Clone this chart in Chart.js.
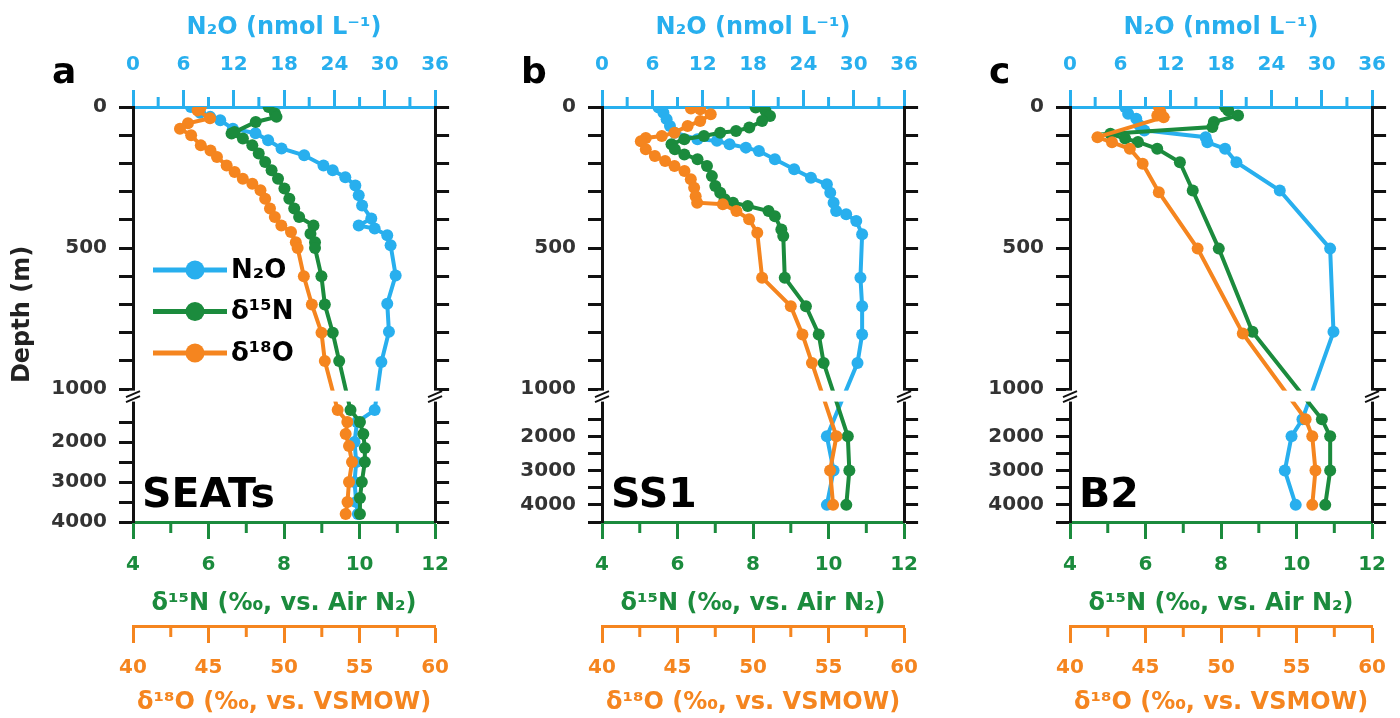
<!DOCTYPE html>
<html>
<head>
<meta charset="utf-8">
<script src="https://cdn.jsdelivr.net/npm/chart.js@4.4.0/dist/chart.umd.min.js"></script>
<style>
  body { margin: 0; background: #fff; width: 1400px; height: 718px; overflow: hidden; position: relative; }
  canvas { position: absolute; top: 0; }
</style>
</head>
<body>
<canvas id="chartA" width="463" height="718" style="left:0px"></canvas>
<canvas id="chartB" width="463" height="718" style="left:469px"></canvas>
<canvas id="chartC" width="463" height="718" style="left:937px"></canvas>
<script>
let blue = "#28AFEE";
let green = "#1B8B3D";
let orange = "#F5851F";

// tick labels
let n2oTicks = [0, 6, 12, 18, 24, 30, 36];
let d15Ticks = [4, 6, 8, 10, 12];
let d18Ticks = [40, 45, 50, 55, 60];
let depthLabels = [0, 500, 1000, 2000, 3000, 4000];

// SEATs
let seatsN2oDepth = [0, 20, 35, 47, 77, 93, 118, 147, 171, 207, 224, 249, 278, 313, 349, 395, 420, 431, 455, 490, 597, 697, 797, 904, 1200, 1500, 2000, 2500, 3000, 3500, 3800];
let seatsN2o = [6.9, 8.0, 9.2, 10.4, 11.9, 14.6, 16.1, 17.7, 20.4, 22.7, 23.8, 25.3, 26.5, 26.9, 27.3, 28.4, 26.9, 28.8, 30.3, 30.7, 31.3, 30.3, 30.5, 29.6, 28.8, 26.7, 26.4, 26.6, 26.4, 26.6, 26.8];
let seats15Depth = [0, 23, 35, 53, 89, 94, 112, 136, 165, 195, 224, 254, 289, 325, 360, 390, 420, 449, 479, 500, 600, 700, 800, 900, 1200, 1500, 1800, 2150, 2500, 3000, 3400, 3800];
let seats15N = [7.59, 7.76, 7.8, 7.25, 6.69, 6.61, 6.91, 7.16, 7.33, 7.5, 7.67, 7.84, 8.01, 8.14, 8.27, 8.4, 8.78, 8.7, 8.82, 8.82, 8.99, 9.08, 9.29, 9.46, 9.76, 10.01, 10.1, 10.14, 10.14, 10.06, 10.01, 10.01];
let seats18Depth = [0, 12, 40, 58, 77, 100, 136, 154, 177, 207, 230, 254, 272, 295, 325, 360, 390, 420, 443, 479, 500, 600, 700, 800, 900, 1200, 1500, 1800, 2100, 2500, 3000, 3500, 3800];
let seats18O = [44.49, 44.28, 45.1, 43.64, 43.11, 43.85, 44.49, 45.13, 45.56, 46.2, 46.73, 47.27, 47.9, 48.44, 48.75, 49.07, 49.39, 49.82, 50.46, 50.78, 50.9, 51.31, 51.84, 52.48, 52.7, 53.55, 54.19, 54.08, 54.3, 54.5, 54.3, 54.2, 54.08];

// SS1
let ss1N2oDepth = [2, 20, 43, 67, 91, 114, 120, 132, 144, 156, 185, 221, 251, 274, 304, 339, 369, 380, 404, 451, 605, 706, 806, 907, 2000, 3000, 4000];
let ss1N2o = [6.74, 7.32, 7.7, 8.1, 8.67, 11.37, 13.7, 15.2, 17.15, 18.7, 20.6, 22.9, 24.9, 26.8, 27.2, 27.6, 27.9, 29.1, 30.3, 31.0, 30.8, 31.0, 31.0, 30.45, 26.8, 27.6, 26.8];
let ss115Depth = [2, 14, 32, 50, 73, 85, 91, 103, 114, 132, 150, 168, 185, 209, 245, 280, 304, 327, 339, 351, 369, 387, 434, 457, 605, 706, 806, 907, 2000, 3000, 4000];
let ss115N = [8.07, 8.33, 8.45, 8.24, 7.9, 7.55, 7.13, 6.7, 6.18, 5.84, 5.93, 6.18, 6.53, 6.78, 6.91, 7.0, 7.13, 7.25, 7.47, 7.86, 8.41, 8.58, 8.75, 8.8, 8.84, 9.4, 9.74, 9.87, 10.51, 10.55, 10.47];
let ss118Depth = [5, 8, 26, 50, 67, 91, 103, 110, 121, 150, 174, 191, 209, 227, 256, 286, 316, 339, 345, 369, 398, 446, 605, 706, 806, 907, 2000, 3000, 4000];
let ss118O = [45.89, 46.5, 47.2, 46.5, 45.67, 44.8, 43.96, 42.9, 42.57, 42.9, 43.5, 44.18, 44.8, 45.46, 45.88, 46.1, 46.2, 46.3, 48.0, 48.9, 49.74, 50.28, 50.6, 52.5, 53.27, 53.9, 55.52, 55.1, 55.3];

// B2
let b2N2oDepth = [0, 24, 42, 65, 83, 107, 125, 148, 196, 296, 502, 797, 1500, 2000, 3000, 4000];
let b2N2o = [6.55, 6.93, 7.9, 8.28, 8.86, 16.17, 16.37, 18.48, 19.83, 25.0, 31.0, 31.4, 27.7, 26.4, 25.6, 26.9];
let b215Depth = [0, 12, 30, 53, 71, 95, 112, 124, 148, 196, 296, 502, 797, 1500, 2000, 3000, 4000];
let b215N = [8.11, 8.19, 8.45, 7.81, 7.77, 5.07, 5.46, 5.8, 6.31, 6.91, 7.25, 7.94, 8.83, 10.67, 10.89, 10.89, 10.76];
let b218Depth = [0, 18, 30, 36, 107, 125, 148, 201, 302, 502, 803, 1500, 2000, 3000, 4000];
let b218O = [45.88, 45.99, 45.78, 46.2, 41.82, 42.78, 43.96, 44.81, 45.88, 48.45, 51.44, 55.6, 56.04, 56.25, 56.04];

// broken depth axis: 0-1000 m linear, blank band, then the deep part squeezed
const GAP = 46;
const LOWER = 425;
function depthMap(dmax) {
    return (d) => (d <= 1000 ? d : 1000 + GAP + ((d - 1000) * LOWER) / (dmax - 1000));
}
function depthTicks(dmax, ty) {
    let t = [];
    for (let d = 0; d <= 1000; d += 100) t.push({ value: ty(d), depth: d });
    for (let d = 1500; d <= dmax; d += 500) t.push({ value: ty(d), depth: d });
    return t;
}

Chart.defaults.font.family = "'DejaVu Sans', sans-serif";
Chart.defaults.font.weight = "bold";
let tickFont = { size: 20, weight: "bold" };

function line(ctx, x1, y1, x2, y2) {
    ctx.beginPath();
    ctx.moveTo(x1, y1);
    ctx.lineTo(x2, y2);
    ctx.stroke();
}

let minorTicks = {
    id: "minorTicks",
    afterDraw(chart) {
        let ctx = chart.ctx;
        [["x", 3, blue, -10], ["x15", 1, green, 11], ["x18", 2.5, orange, 11]].forEach(([id, step, col, len]) => {
            let s = chart.scales[id];
            let y0 = len < 0 ? s.bottom : s.top;
            ctx.save();
            ctx.strokeStyle = col;
            ctx.lineWidth = 3;
            for (let v = s.min + step; v < s.max; v += 2 * step) {
                let x = s.getPixelForValue(v);
                line(ctx, x, y0, x, y0 + len);
            }
            ctx.restore();
        });
    },
};

let depthBreak = {
    id: "depthBreak",
    afterDatasetsDraw(chart) {
        let ctx = chart.ctx;
        let a = chart.chartArea;
        let y1 = chart.scales.y.getPixelForValue(1000) + 1.5;
        let y2 = chart.scales.y.getPixelForValue(1000 + GAP) - 0.5;
        ctx.save();
        ctx.fillStyle = "#fff";
        ctx.fillRect(a.left - 4, y1, a.right - a.left + 8, y2 - y1);
        ctx.strokeStyle = "#111";
        ctx.lineWidth = 2;
        let yc = (y1 + y2) / 2;
        [a.left, a.right].forEach((x) => {
            line(ctx, x - 7, yc + 1, x + 7, yc - 5);
            line(ctx, x - 7, yc + 6, x + 7, yc);
        });
        ctx.restore();
    },
};

let decor = {
    id: "decor",
    afterDraw(chart, args, opts) {
        let ctx = chart.ctx;
        let a = chart.chartArea;
        ctx.save();
        ctx.fillStyle = "#000";
        ctx.textBaseline = "alphabetic";
        ctx.font = "bold 36px 'DejaVu Sans'";
        ctx.fillText(opts.letter, a.left - 81, 83);
        ctx.font = "bold 41px 'DejaVu Sans'";
        ctx.fillText(opts.station, a.left + 9, 507);
        if (opts.legend) {
            let items = [["N₂O", blue], ["δ¹⁵N", green], ["δ¹⁸O", orange]];
            items.forEach(([txt, col], i) => {
                let y = a.top + 163 + i * 41.5;
                ctx.strokeStyle = col;
                ctx.fillStyle = col;
                ctx.lineWidth = 5;
                line(ctx, a.left + 20, y, a.left + 94, y);
                ctx.beginPath();
                ctx.arc(a.left + 62, y, 9.5, 0, Math.PI * 2);
                ctx.fill();
                ctx.fillStyle = "#000";
                ctx.font = "bold 26px 'DejaVu Sans'";
                ctx.textBaseline = "middle";
                ctx.fillText(txt, a.left + 98, y + 1);
            });
        }
        ctx.restore();
    },
};

function series(label, depth, vals, ty, color, axis) {
    return {
        label: label,
        data: depth.map((d, i) => ({ x: vals[i], y: ty(d) })),
        xAxisID: axis,
        yAxisID: "y",
        showLine: true,
        borderColor: color,
        backgroundColor: color,
        pointBackgroundColor: color,
        pointBorderWidth: 0,
        pointRadius: 6,
        borderWidth: 4,
        tension: 0,
    };
}

function xAxis(pos, min, max, ticks, color, title, height, labelPad, titlePad, weight) {
    return {
        type: "linear",
        position: pos,
        min: min,
        max: max,
        weight: weight,
        afterBuildTicks: (s) => {
            s.ticks = ticks.map((v) => ({ value: v }));
        },
        ticks: { color: color, font: tickFont, padding: labelPad, autoSkip: false, maxRotation: 0 },
        grid: { drawOnChartArea: false, tickLength: 17, tickWidth: 3, tickColor: color },
        border: { color: color, width: 3 },
        title: { display: true, text: title, color: color, font: { size: 24, weight: "bold" }, padding: titlePad },
        afterFit: (s) => {
            s.height = height;
        },
    };
}

function yAxis(pos, tmax, yTicks, width, showLabels, showTitle) {
    return {
        type: "linear",
        position: pos,
        reverse: true,
        min: 0,
        max: tmax,
        afterBuildTicks: (s) => {
            s.ticks = yTicks.map((t) => ({ value: t.value, depth: t.depth }));
        },
        ticks: {
            display: showLabels,
            color: "#333",
            font: tickFont,
            padding: 12,
            autoSkip: false,
            callback: (v, i, t) => (depthLabels.includes(t[i].depth) ? String(t[i].depth) : ""),
        },
        grid: { drawOnChartArea: false, tickLength: 14, tickWidth: 3, tickColor: "#111" },
        border: { color: "#111", width: 3 },
        title: { display: showTitle, text: "Depth (m)", color: "#222", font: { size: 24, weight: "bold" }, padding: { top: 8, bottom: 0 } },
        afterFit: (s) => {
            s.width = width;
        },
    };
}

function buildChart(id, n2o, d15, d18, dmax, letter, station, legend) {
    let ty = depthMap(dmax);
    let yTicks = depthTicks(dmax, ty);
    let tmax = ty(dmax);
    return new Chart(id, {
        type: "scatter",
        data: {
            datasets: [
                series("δ¹⁸O", d18[0], d18[1], ty, orange, "x18"),
                series("δ¹⁵N", d15[0], d15[1], ty, green, "x15"),
                series("N₂O", n2o[0], n2o[1], ty, blue, "x"),
            ],
        },
        options: {
            responsive: false,
            animation: false,
            devicePixelRatio: 1,
            layout: { padding: 0 },
            plugins: {
                legend: { display: false },
                tooltip: { enabled: false },
                decor: { letter: letter, station: station, legend: legend },
            },
            scales: {
                x: xAxis("top", 0, 36, n2oTicks, blue, "N₂O (nmol L⁻¹)", 107, 13, { top: 13, bottom: 0 }, 0),
                x15: xAxis("bottom", 4, 12, d15Ticks, green, "δ¹⁵N (‰, vs. Air N₂)", 104, 14, { top: 0, bottom: 8 }, 0),
                x18: xAxis("bottom", 40, 60, d18Ticks, orange, "δ¹⁸O (‰, vs. VSMOW)", 92, 13, { top: 0, bottom: 1 }, 1),
                y: yAxis("left", tmax, yTicks, 133, true, legend),
                y2: yAxis("right", tmax, yTicks, 17, false, false),
            },
        },
        plugins: [minorTicks, depthBreak, decor],
    });
}

buildChart("chartA", [seatsN2oDepth, seatsN2o], [seats15Depth, seats15N], [seats18Depth, seats18O], 4000, "a", "SEATs", true);
buildChart("chartB", [ss1N2oDepth, ss1N2o], [ss115Depth, ss115N], [ss118Depth, ss118O], 4500, "b", "SS1", false);
buildChart("chartC", [b2N2oDepth, b2N2o], [b215Depth, b215N], [b218Depth, b218O], 4500, "c", "B2", false);
</script>
</body>
</html>
